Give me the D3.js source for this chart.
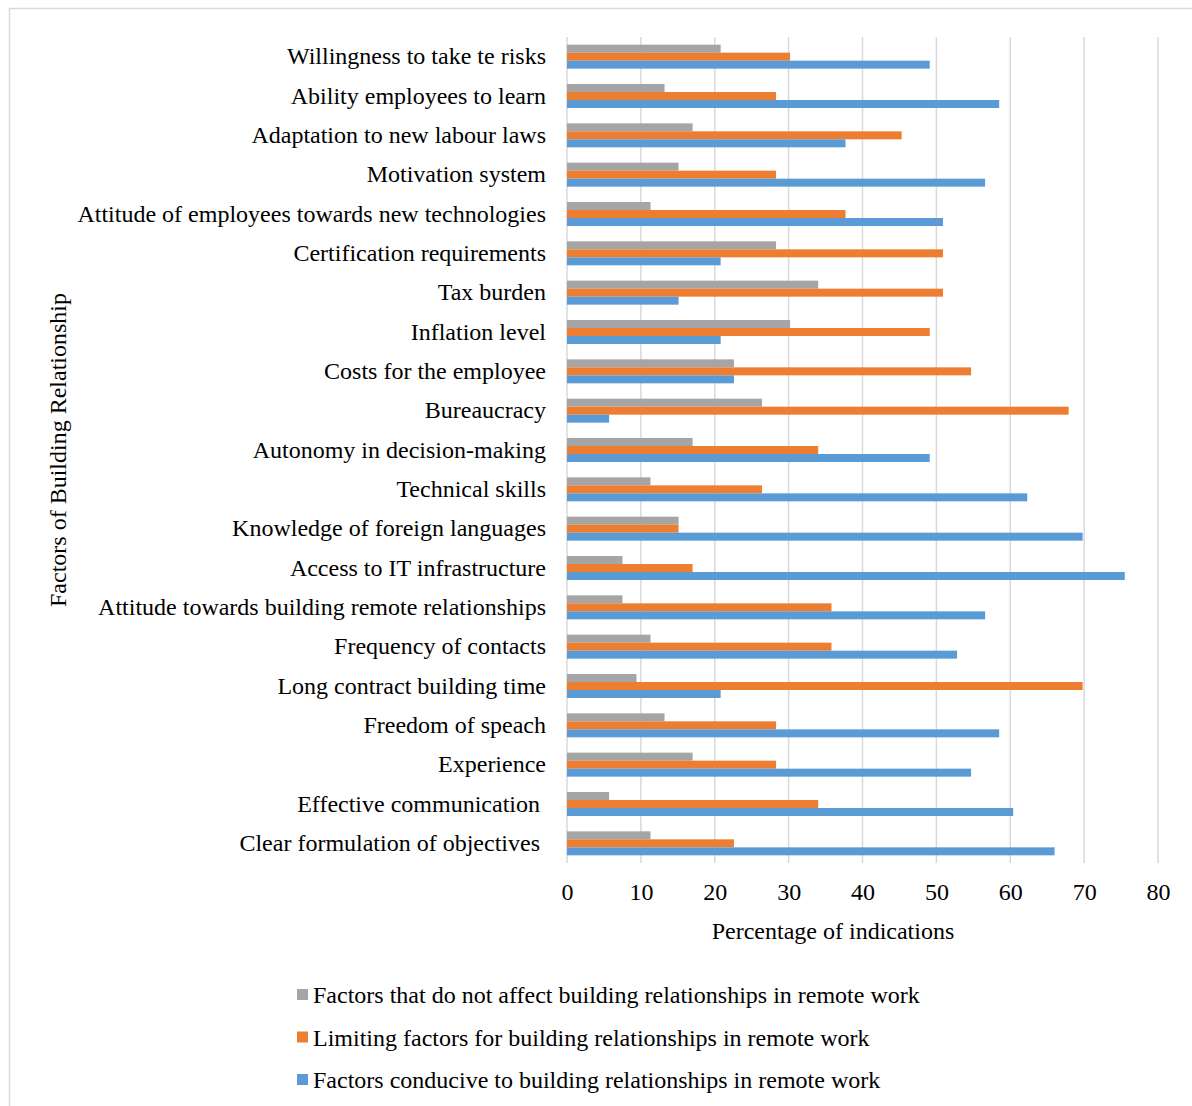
<!DOCTYPE html>
<html>
<head>
<meta charset="utf-8">
<script src="https://cdn.jsdelivr.net/npm/d3@7"></script>
<style>
  html, body { margin: 0; padding: 0; background: #fff; }
  svg text { font-family: "Liberation Serif", "Times New Roman", serif; fill: #000; white-space: pre; }
</style>
</head>
<body>
<svg id="chart" width="1192" height="1106"></svg>
<script>
// Factors listed top to bottom as they appear on the chart
const categories = [
  "Willingness to take te risks",
  "Ability employees to learn",
  "Adaptation to new labour laws",
  "Motivation system",
  "Attitude of employees towards new technologies",
  "Certification requirements",
  "Tax burden",
  "Inflation level",
  "Costs for the employee",
  "Bureaucracy",
  "Autonomy in decision-making",
  "Technical skills",
  "Knowledge of foreign languages",
  "Access to IT infrastructure",
  "Attitude towards building remote relationships",
  "Frequency of contacts",
  "Long contract building time",
  "Freedom of speach",
  "Experience",
  "Effective communication ",
  "Clear formulation of objectives "
];

const seriesNames = [
  "Factors that do not affect building relationships in remote work",
  "Limiting factors for building relationships in remote work",
  "Factors conducive to building relationships in remote work"
];

// Percentage of indications per factor
const notAffecting = [20.8, 13.2, 17.0, 15.1, 11.3, 28.3, 34.0, 30.2, 22.6, 26.4, 17.0, 11.3, 15.1, 7.5, 7.5, 11.3, 9.4, 13.2, 17.0, 5.7, 11.3];
const limiting     = [30.2, 28.3, 45.3, 28.3, 37.7, 50.9, 50.9, 49.1, 54.7, 67.9, 34.0, 26.4, 15.1, 17.0, 35.8, 35.8, 69.8, 28.3, 28.3, 34.0, 22.6];
const conducive    = [49.1, 58.5, 37.7, 56.6, 50.9, 20.8, 15.1, 20.8, 22.6, 5.7, 49.1, 62.3, 69.8, 75.5, 56.6, 52.8, 20.8, 58.5, 54.7, 60.4, 66.0];

const xTicks = [0, 10, 20, 30, 40, 50, 60, 70, 80];
const colors = ["#A5A5A5", "#ED7D31", "#5B9BD5"];

const seriesValues = [notAffecting, limiting, conducive];

const svg = d3.select("#chart");
const plot = { left: 567, right: 1158, top: 37, bottom: 863 };
const fontSize = 24;

// outer frame
svg.append("rect")
  .attr("x", 9.5).attr("y", 8.5)
  .attr("width", 1200).attr("height", 1200)
  .attr("fill", "none").attr("stroke", "#d9d9d9").attr("stroke-width", 1.5);

const x = d3.scaleLinear().domain([0, 80]).range([plot.left, plot.right]);
const y = d3.scaleBand().domain(categories).range([plot.top, plot.bottom])
  .paddingInner(0.39).paddingOuter(0.195);
const ySub = d3.scaleBand().domain(d3.range(seriesNames.length)).range([0, y.bandwidth()]);

// vertical gridlines
svg.append("g").selectAll("line").data(xTicks).join("line")
  .attr("x1", d => x(d)).attr("x2", d => x(d))
  .attr("y1", plot.top).attr("y2", plot.bottom)
  .attr("stroke", "#d9d9d9").attr("stroke-width", 1.5);

// bars
const groups = svg.append("g").selectAll("g").data(categories).join("g")
  .attr("transform", d => `translate(0,${y(d)})`);

groups.selectAll("rect")
  .data((d, i) => seriesValues.map((vals, s) => ({ s, v: vals[i] })))
  .join("rect")
  .attr("x", x(0))
  .attr("y", d => ySub(d.s))
  .attr("width", d => x(d.v) - x(0))
  .attr("height", ySub.bandwidth())
  .attr("fill", d => colors[d.s]);

// category labels
const yAxis = d3.axisLeft(y).tickSize(0).tickPadding(21);
const yg = svg.append("g").attr("transform", `translate(${plot.left},0)`).call(yAxis);
yg.select(".domain").remove();
yg.selectAll("text")
  .attr("font-size", fontSize)
  .style("font-family", '"Liberation Serif", serif');

// value axis labels
const xAxis = d3.axisBottom(x).tickValues(xTicks).tickSize(0).tickPadding(20);
const xg = svg.append("g").attr("transform", `translate(0,${plot.bottom})`).call(xAxis);
xg.select(".domain").remove();
xg.selectAll("text")
  .attr("font-size", fontSize)
  .style("font-family", '"Liberation Serif", serif');

// axis titles
svg.append("text")
  .attr("x", 833).attr("y", 939)
  .attr("text-anchor", "middle")
  .attr("font-size", fontSize)
  .text("Percentage of indications");

svg.append("text")
  .attr("transform", `translate(66,${(plot.top + plot.bottom) / 2}) rotate(-90)`)
  .attr("text-anchor", "middle")
  .attr("font-size", fontSize)
  .text("Factors of Building Relationship");

// legend
const legend = svg.append("g").selectAll("g").data(seriesNames).join("g")
  .attr("transform", (d, i) => `translate(297,${995 + i * 42.5})`);
legend.append("rect")
  .attr("x", 0).attr("y", -6).attr("width", 11).attr("height", 11)
  .attr("fill", (d, i) => colors[i]);
legend.append("text")
  .attr("x", 16).attr("y", 8)
  .attr("font-size", fontSize)
  .text(d => d);
</script>
</body>
</html>
